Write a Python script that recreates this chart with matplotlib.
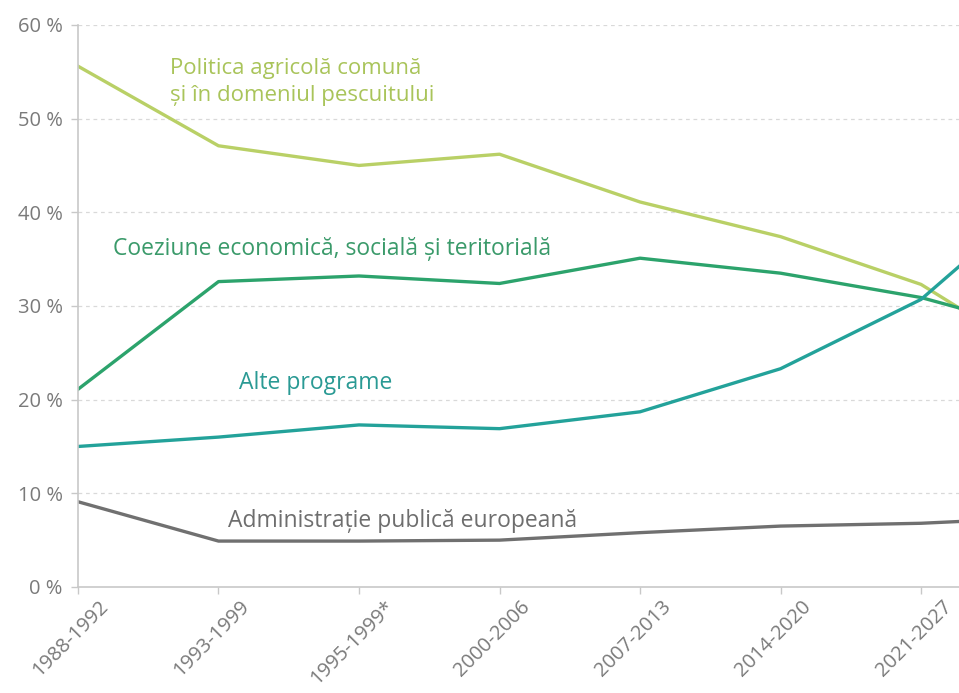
import matplotlib.pyplot as plt
import matplotlib.transforms as mtransforms

# periods (the last one is cut off at the right edge of the picture)
periods = ["1988-1992", "1993-1999", "1995-1999*", "2000-2006", "2007-2013",
           "2014-2020", "2021-2027", ""]

agri = [55.6, 47.1, 45.0, 46.2, 41.1, 37.4, 32.3, 23.0]
coeziune = [21.1, 32.6, 33.2, 32.4, 35.1, 33.5, 30.9, 26.8]
alte = [15.0, 16.0, 17.3, 16.9, 18.7, 23.3, 30.7, 43.7]
admin = [9.1, 4.9, 4.9, 5.0, 5.8, 6.5, 6.8, 7.5]

c_agri = "#b9d066"
c_coez = "#2ca36c"
c_alte = "#23a29a"
c_admin = "#707070"
c_txt = "#7a7a7a"

plt.rcParams['font.family'] = ['Open Sans', 'DejaVu Sans']

fig = plt.figure(figsize=(9.59, 6.93), dpi=100)
ax = fig.add_axes([0.0813, 0.153, 0.9187, 0.811])

x = list(range(len(periods)))
ax.plot(x, agri, color=c_agri, lw=2.4)
ax.plot(x, coeziune, color=c_coez, lw=2.4)
ax.plot(x, alte, color=c_alte, lw=2.4)
ax.plot(x, admin, color=c_admin, lw=2.4)

ax.set_yticks(range(0, 61, 10))
ax.set_yticklabels([f"{v} %" for v in range(0, 61, 10)], color=c_txt, fontsize=14.5)
ax.set_xticks(x)
ax.set_xticklabels(periods, rotation=45, ha='center', va='top',
                   color=c_txt, fontsize=14.5)
ax.tick_params(axis='both', color="#c8c8c8", length=5, width=1)
ax.tick_params(axis='x', pad=2)
ax.tick_params(axis='y', pad=6)

# nudge the rotated period labels a little to the left
offset = mtransforms.ScaledTranslation(-0.07, 0, fig.dpi_scale_trans)
for lab in ax.get_xticklabels():
    lab.set_transform(lab.get_transform() + offset)

ax.set_xlim(0, 6.27)
ax.set_ylim(0, 60)

for v in range(10, 61, 10):
    ax.axhline(v, color="#d9d9d9", lw=0.9, ls=(0, (3, 3)), zorder=0)

for s in ['top', 'right']:
    ax.spines[s].set_visible(False)
ax.spines['left'].set_color("#c8c8c8")
ax.spines['bottom'].set_color("#c8c8c8")
ax.spines['left'].set_linewidth(1.2)
ax.spines['bottom'].set_linewidth(1.2)

ax.text(0.655, 53.9, "Politica agricolă comună\nși în domeniul pescuitului",
        color="#a9c45a", fontsize=16, va='center', ha='left', linespacing=1.35)
ax.text(0.25, 36.1, "Coeziune economică, socială și teritorială",
        color="#3a9a6a", fontsize=16.5, va='center', ha='left')
ax.text(1.69, 21.8, "Alte programe", color="#2a9a94", fontsize=16.5,
        va='center', ha='center')
ax.text(1.07, 7.0, "Administrație publică europeană", color="#6e6e6e",
        fontsize=16.5, va='center', ha='left')

fig.savefig("out.png", dpi=100)
